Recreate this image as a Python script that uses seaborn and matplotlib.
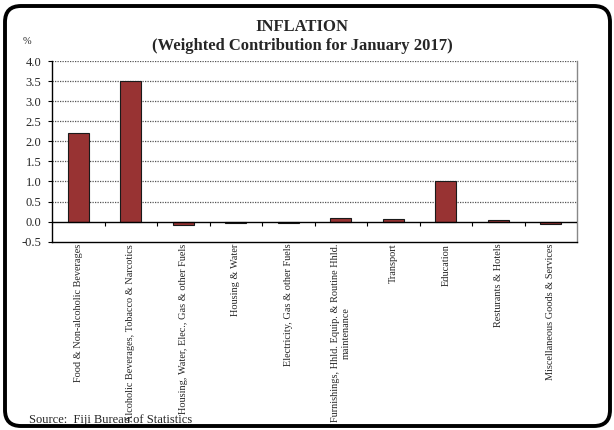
import matplotlib
matplotlib.use('Agg')
import matplotlib.pyplot as plt
import seaborn as sns
import pandas as pd
from matplotlib.patches import FancyBboxPatch
from matplotlib.transforms import IdentityTransform

sns.set_theme(style='white')
plt.rcParams['font.family'] = ['Liberation Serif', 'DejaVu Serif']

categories = ['Food & Non-alcoholic Beverages',
              'Alcoholic Beverages, Tobacco & Narcotics',
              'Housing, Water, Elec., Gas & other Fuels',
              'Housing & Water',
              'Electricity, Gas & other Fuels',
              'Furnishings, Hhld. Equip. & Routine Hhld.\nmaintenance',
              'Transport',
              'Education',
              'Resturants & Hotels',
              'Miscellaneous Goods & Services']
contribution = [2.2, 3.5, -0.08, -0.04, -0.04, 0.08, 0.07, 1.0, 0.05, -0.05]
yticks = [-0.5, 0.0, 0.5, 1.0, 1.5, 2.0, 2.5, 3.0, 3.5, 4.0]

df = pd.DataFrame({'cat': categories, 'val': contribution})

fig = plt.figure(figsize=(6.14, 4.30), dpi=100)
ax = fig.add_axes([52 / 614, 1 - 241.7 / 430, 525 / 614, 180.7 / 430])

sns.barplot(data=df, x='cat', y='val', ax=ax, color='#983333', saturation=1,
            width=0.4, edgecolor='#1a1a1a', linewidth=0.8)

ymin, ymax = yticks[0], yticks[-1]
ax.set_ylim(ymin, ymax)
ax.set_xlim(-0.5, len(categories) - 0.5)
ax.set_yticks(yticks)
ax.set_yticklabels([f'{v:.1f}' for v in yticks], fontsize=9)
ax.tick_params(axis='y', direction='out', length=3, width=0.8, color='black', pad=4.5, left=True)
ax.set_xticks(range(len(categories)))
ax.set_xticklabels(categories, rotation=90, fontsize=7.4, va='top', ha='center')
ax.tick_params(axis='x', length=0, pad=1.5)
ax.set_xlabel('')
ax.set_ylabel('')

for v in yticks[1:]:
    if v != 0:
        ax.axhline(v, color='#555555', lw=0.9, ls=(0, (1, 1)), zorder=0)
ax.axhline(0, color='black', lw=1.0, zorder=3)

for side in ['left', 'bottom']:
    ax.spines[side].set_color('black')
    ax.spines[side].set_linewidth(1.0)
ax.spines['top'].set_visible(False)
ax.spines['right'].set_color('#888888')
ax.spines['right'].set_linewidth(1.0)

# ticks on the zero line at category boundaries
zero_loc = (0 - ymin) / (ymax - ymin)
sec = ax.secondary_xaxis(zero_loc)
sec.set_xticks([i + 0.5 for i in range(len(categories) - 1)])
sec.set_xticklabels([])
sec.tick_params(direction='out', length=3, width=0.8, color='black')
sec.spines['bottom'].set_visible(False)

fig.text(0.492, 1 - 27 / 430, 'INFLATION', ha='center', va='center',
         fontsize=12, fontweight='bold')
fig.text(0.492, 1 - 46 / 430, '(Weighted Contribution for January 2017)',
         ha='center', va='center', fontsize=12, fontweight='bold')
fig.text(27 / 614, 1 - 41 / 430, '%', ha='center', va='center', fontsize=7.5)
fig.text(29 / 614, 1 - 423 / 430, 'Source:  Fiji Bureau of Statistics',
         ha='left', va='baseline', fontsize=9)

border = FancyBboxPatch((5, 4), 605, 420, boxstyle='round,pad=0,rounding_size=16',
                        transform=IdentityTransform(), fill=False,
                        edgecolor='black', linewidth=2.8, zorder=10)
fig.patches.append(border)

fig.savefig('out.png', dpi=100)
